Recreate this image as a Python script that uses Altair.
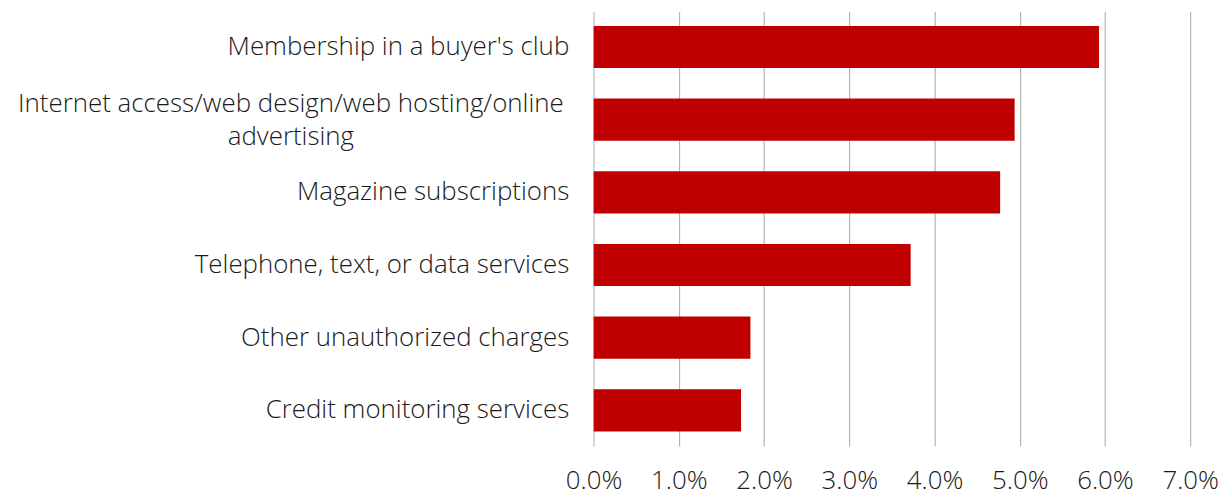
import altair as alt
import pandas as pd

categories = [
    "Membership in a buyer's club ",
    "Internet access/web design/web hosting/online advertising",
    "Magazine subscriptions",
    "Telephone, text, or data services",
    "Other unauthorized charges",
    "Credit monitoring services",
]
values = [0.0593, 0.0494, 0.0477, 0.0372, 0.0184, 0.0173]
x_ticks = [0, 0.01, 0.02, 0.03, 0.04, 0.05, 0.06, 0.07]

df = pd.DataFrame({"category": categories, "value": values})

long_label = categories[1]
font = "Open Sans"
fsize = 26
is_long = f"datum.value == '{long_label}'"

chart = (
    alt.Chart(df)
    .mark_bar(color="#C00000")
    .encode(
        x=alt.X(
            "value:Q",
            scale=alt.Scale(domain=[0, 0.07], nice=False, zero=True),
            axis=alt.Axis(
                values=x_ticks,
                format=".1%",
                title=None,
                domain=False,
                ticks=False,
                grid=True,
                gridColor="#A6A6A6",
                gridWidth=1,
                labelFont=font,
                labelFontSize=fsize,
                labelFontWeight=300,
                labelColor="#1a1a1a",
                labelPadding=22,
                labelFlush=False,
            ),
        ),
        y=alt.Y(
            "category:N",
            sort=categories,
            scale=alt.Scale(paddingInner=0.42, paddingOuter=0.2),
            axis=alt.Axis(
                title=None,
                ticks=False,
                domain=True,
                domainColor="#D9D9D9",
                domainWidth=1,
                labelFont=font,
                labelFontSize=fsize,
                labelFontWeight=300,
                labelColor="#1a1a1a",
                labelLimit=700,
                labelLineHeight=33,
                labelExpr=f"datum.label == '{long_label}' ? ['Internet access/web design/web hosting/online', 'advertising'] : datum.label",
                labelAlign={
                    "condition": {"test": is_long, "value": "center"},
                    "value": "right",
                },
                labelPadding={
                    "condition": {"test": is_long, "value": 305},
                    "value": 25,
                },
                labelOffset={
                    "condition": {"test": is_long, "value": -16},
                    "value": 0,
                },
            ),
        ),
    )
    .properties(
        width=600,
        height=437,
        background="white",
        padding={"left": 9, "top": 2, "right": 5, "bottom": 10},
    )
    .configure_view(stroke=None)
)

chart.save("out.html", embed_options={"renderer": "svg", "actions": False})
